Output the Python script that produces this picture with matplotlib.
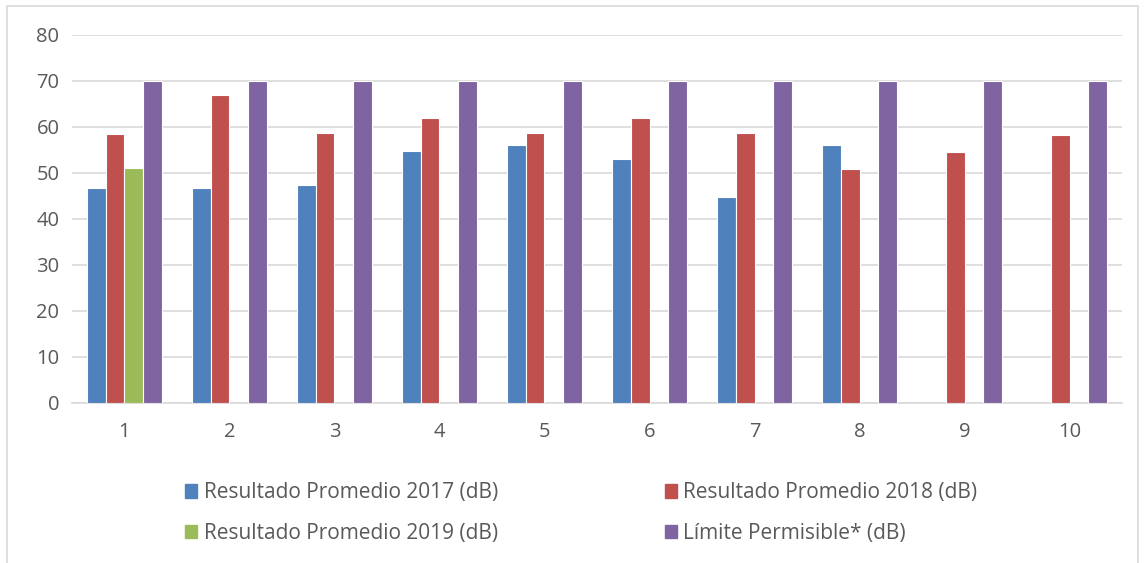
import numpy as np
import matplotlib.pyplot as plt
from matplotlib.patches import Patch, Rectangle

puntos = [1, 2, 3, 4, 5, 6, 7, 8, 9, 10]
res_2017 = [46.7, 46.7, 47.3, 54.7, 56.0, 52.9, 44.7, 56.0, np.nan, np.nan]
res_2018 = [58.4, 66.8, 58.6, 61.8, 58.6, 61.8, 58.6, 50.8, 54.5, 58.2]
res_2019 = [51.0, np.nan, np.nan, np.nan, np.nan, np.nan, np.nan, np.nan, np.nan, np.nan]
limite = [70, 70, 70, 70, 70, 70, 70, 70, 70, 70]

series = [res_2017, res_2018, res_2019, limite]
nombres = ['Resultado Promedio 2017 (dB)', 'Resultado Promedio 2018 (dB)',
           'Resultado Promedio 2019 (dB)', 'Límite Permisible* (dB)']
colores = ['#4f81bd', '#c0504d', '#9bbb59', '#8064a2']

plt.rcParams['font.family'] = ['Open Sans', 'DejaVu Sans']

fig = plt.figure(figsize=(11.44, 5.63), dpi=100)
ax = fig.add_axes([0.0629, 0.2842, 0.9179, 0.6545])

x = np.arange(len(puntos))
w = 0.18
for i, (vals, col) in enumerate(zip(series, colores)):
    ax.bar(x + (i - 1.5) * w, vals, width=w, color=col, edgecolor='white',
           linewidth=0.8, zorder=3)

ax.set_ylim(0, 80)
ax.set_xlim(-0.5, len(puntos) - 0.5)
ax.set_yticks(range(0, 81, 10))
ax.set_xticks(x)
ax.set_xticklabels([str(p) for p in puntos])
ax.grid(axis='y', color='#d9d9d9', linewidth=1.2, zorder=0)
for s in ['top', 'right', 'left']:
    ax.spines[s].set_visible(False)
ax.spines['bottom'].set_color('#d9d9d9')
ax.spines['bottom'].set_linewidth(1.2)
ax.tick_params(length=0, labelsize=14.5, labelcolor='#595959')
ax.tick_params(axis='y', pad=9)
ax.tick_params(axis='x', pad=14)

# orden para que las filas queden 2017|2018 y 2019|Limite
orden = [0, 2, 1, 3]
handles = [Patch(color=colores[k]) for k in orden]
labels = [nombres[k] for k in orden]
fig.legend(handles, labels, ncol=2, loc='center', bbox_to_anchor=(0.508, 0.0888),
           frameon=False, fontsize=15, labelcolor='#595959',
           handlelength=0.6, handleheight=0.6, handletextpad=0.3,
           columnspacing=8.0, labelspacing=0.92)

fig.add_artist(Rectangle((0.006, -0.01), 0.989, 1.0, transform=fig.transFigure,
                         fill=False, edgecolor='#d9d9d9', linewidth=1.2))

fig.savefig('out.png', dpi=100)
